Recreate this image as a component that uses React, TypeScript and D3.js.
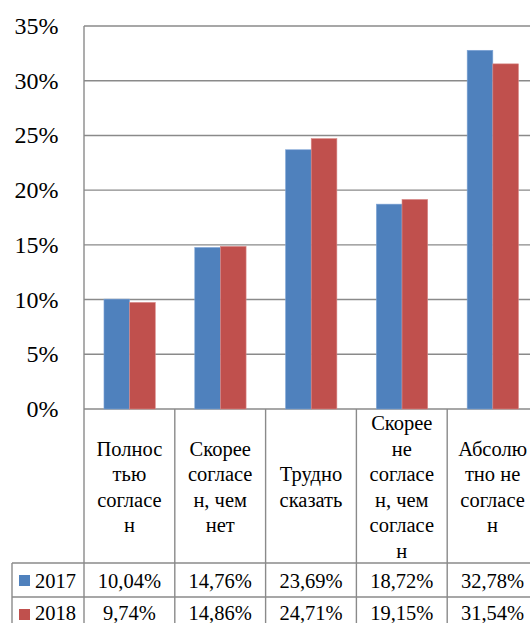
import React from "react";
import * as d3 from "d3";

const categories = [
  "Полностью согласен",
  "Скорее согласен, чем нет",
  "Трудно сказать",
  "Скорее не согласен, чем согласен",
  "Абсолютно не согласен",
];
const categoryLines: string[][] = [
  ["Полнос", "тью", "согласе", "н"],
  ["Скорее", "согласе", "н, чем", "нет"],
  ["Трудно", "сказать"],
  ["Скорее", "не", "согласе", "н, чем", "согласе", "н"],
  ["Абсолю", "тно не", "согласе", "н"],
];
const seriesNames = ["2017", "2018"];
const values2017 = [10.04, 14.76, 23.69, 18.72, 32.78];
const values2018 = [9.74, 14.86, 24.71, 19.15, 31.54];
const tableLabels2017 = ["10,04%", "14,76%", "23,69%", "18,72%", "32,78%"];
const tableLabels2018 = ["9,74%", "14,86%", "24,71%", "19,15%", "31,54%"];
const yTicks = [0, 5, 10, 15, 20, 25, 30, 35];
const colors = ["#4F81BD", "#C0504D"];

const W = 530;
const H = 623;
const left = 84;
const right = 538;
const top = 26;
const zeroY = 409;
const headerBottom = 563;
const rowH = 34;
const legendLeft = 12;
const gridColor = "#8a8a8a";
const font = "'Liberation Serif', 'Times New Roman', Times, 'DejaVu Serif', serif";

export default function App() {
  const x = d3.scaleBand<string>().domain(categories).range([left, right]).padding(0);
  const bw = x.bandwidth();
  const inner = d3
    .scaleBand<string>()
    .domain(seriesNames)
    .range([bw * 0.22, bw * 0.785])
    .padding(0);
  const y = d3.scaleLinear().domain([0, 35]).range([zeroY, top]);
  const series = [values2017, values2018];
  const tableRows = [tableLabels2017, tableLabels2018];
  const lineH = 25.5;
  const headerMid = (zeroY + headerBottom) / 2;

  return (
    <svg
      width={W}
      height={H}
      style={{ position: "absolute", left: 0, top: 0, background: "#fff" }}
    >
      <rect x={0} y={0} width={W} height={H} fill="#fff" />
      {yTicks.map((t) => (
        <line
          key={"g" + t}
          x1={left}
          x2={right}
          y1={y(t)}
          y2={y(t)}
          stroke={gridColor}
          strokeWidth={1.4}
        />
      ))}
      <g fontFamily={font} fill="#000">
        {yTicks.map((t) => (
          <text key={"yl" + t} x={58.5} y={y(t) + 8} textAnchor="end" fontSize={24}>
            {t + "%"}
          </text>
        ))}
      </g>
      {series.map((vals, si) =>
        categories.map((c, ci) => (
          <rect
            key={"b" + si + "-" + ci}
            x={(x(c) as number) + (inner(seriesNames[si]) as number)}
            y={y(vals[ci])}
            width={inner.bandwidth()}
            height={zeroY - y(vals[ci])}
            fill={colors[si]}
            stroke={si === 0 ? "#7ea4d6" : "#d98a88"}
            strokeWidth={0.6}
          />
        ))
      )}
      <line x1={left} x2={left} y1={top} y2={H} stroke={gridColor} strokeWidth={1.4} />
      {categories.map((c, i) => (
        <line
          key={"cl" + i}
          x1={(x(c) as number) + bw}
          x2={(x(c) as number) + bw}
          y1={zeroY}
          y2={H}
          stroke={gridColor}
          strokeWidth={1.4}
        />
      ))}
      {[0, 1, 2].map((r) => (
        <line
          key={"rl" + r}
          x1={legendLeft}
          x2={right}
          y1={headerBottom + r * rowH}
          y2={headerBottom + r * rowH}
          stroke={gridColor}
          strokeWidth={1.4}
        />
      ))}
      <line
        x1={legendLeft}
        x2={legendLeft}
        y1={headerBottom}
        y2={H}
        stroke={gridColor}
        strokeWidth={1.4}
      />
      <g fontFamily={font} fill="#000" fontSize={20.5}>
        {categoryLines.map((lines, ci) => {
          const cx = (x(categories[ci]) as number) + bw / 2;
          const n = lines.length;
          return lines.map((ln, li) => (
            <text
              key={"ct" + ci + "-" + li}
              x={cx}
              y={headerMid + (li - (n - 1) / 2) * lineH + 8}
              textAnchor="middle"
            >
              {ln}
            </text>
          ));
        })}
      </g>
      {tableRows.map((row, ri) => {
        const rowTop = headerBottom + ri * rowH;
        const base = ri === 0 ? rowTop + 24.5 : rowTop + 22.5;
        return (
          <g key={"row" + ri} fontFamily={font} fill="#000" fontSize={20.5}>
            <rect x={19} y={rowTop + 12} width={11} height={11} fill={colors[ri]} />
            <text x={35} y={base}>
              {seriesNames[ri]}
            </text>
            {row.map((v, ci) => (
              <text
                key={"v" + ci}
                x={(x(categories[ci]) as number) + bw / 2}
                y={base}
                textAnchor="middle"
              >
                {v}
              </text>
            ))}
          </g>
        );
      })}
    </svg>
  );
}
